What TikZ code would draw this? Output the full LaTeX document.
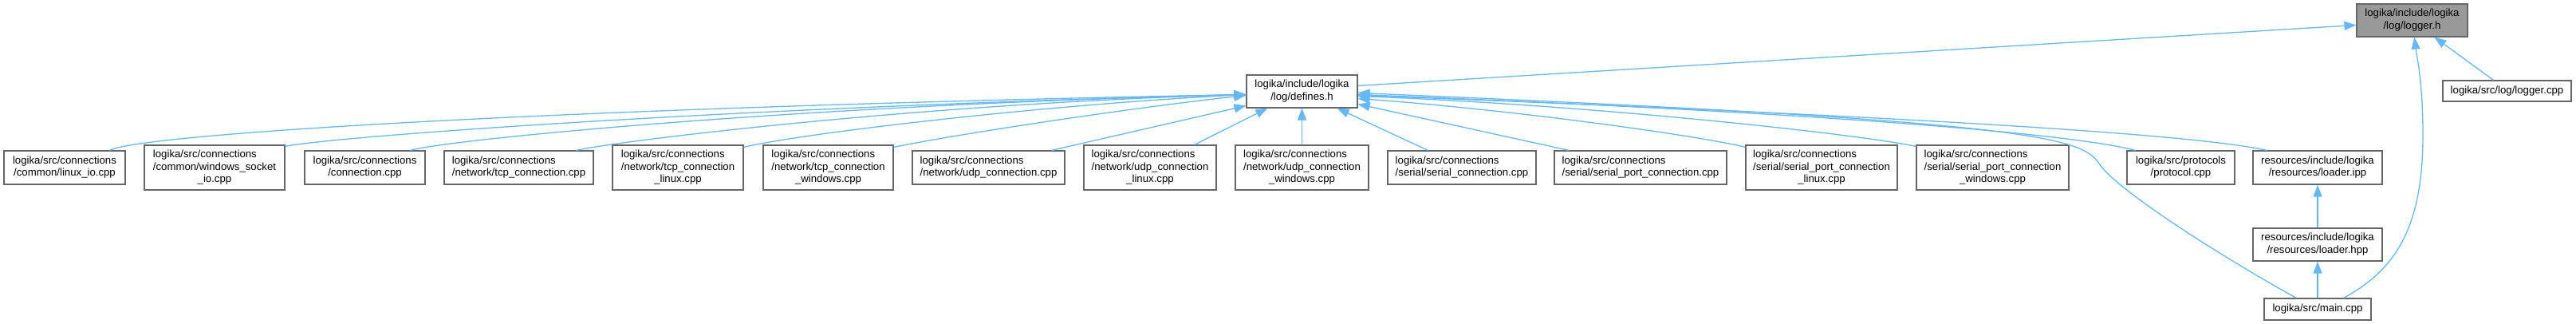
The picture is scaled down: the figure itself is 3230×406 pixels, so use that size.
\documentclass[tikz,border=0pt]{standalone}
\usepackage{fontspec}
\setmainfont{Liberation Sans}
\usetikzlibrary{arrows.meta,calc}
\definecolor{nodeborder}{HTML}{666666}
\definecolor{hlfill}{HTML}{999999}
\definecolor{edgeblue}{HTML}{63B8FF}
\newcommand\twoln[2]{\begin{tabular}{@{}l@{}}#1\\\multicolumn{1}{@{}c@{}}{#2}\end{tabular}}
\newcommand\threeln[3]{\begin{tabular}{@{}l@{}}#1\\#2\\\multicolumn{1}{@{}c@{}}{#3}\end{tabular}}
\tikzset{
  filebox/.style 2 args={draw=nodeborder, line width=1.1pt, fill=white, inner sep=0pt,
    minimum width=#1pt, minimum height=#2pt, font=\fontsize{13.2}{15.3}\selectfont},
  hlbox/.style={fill=hlfill},
  dep/.style={draw=edgeblue, line width=1.3pt, -{Triangle[length=15pt,width=11pt]}},
}
\begin{document}
\begin{tikzpicture}[x=1pt,y=-1pt]
\useasboundingbox (0,0) rectangle (3230,406);
% top nodes
\node[filebox={139}{41}, hlbox] (logh) at (3024.5,25.5) {\twoln{logika/include/logika}{/log/logger.h}};
\node[filebox={139}{41}] (def) at (1632.5,114.5) {\twoln{logika/include/logika}{/log/defines.h}};
\node[filebox={161}{26}] (logcpp) at (3143.5,114) {logika/src/log/logger.cpp};
% row of sources
\node[filebox={152}{42}] (lio) at (81,210) {\twoln{logika/src/connections}{/common/linux\_io.cpp}};
\node[filebox={176}{56}] (wsio) at (269,210) {\threeln{logika/src/connections}{/common/windows\_socket}{\_io.cpp}};
\node[filebox={151}{42}] (conn) at (457.5,210) {\twoln{logika/src/connections}{/connection.cpp}};
\node[filebox={187}{42}] (tcp) at (650.5,210) {\twoln{logika/src/connections}{/network/tcp\_connection.cpp}};
\node[filebox={164}{56}] (tcpl) at (850,210) {\threeln{logika/src/connections}{/network/tcp\_connection}{\_linux.cpp}};
\node[filebox={163}{56}] (tcpw) at (1038.5,210) {\threeln{logika/src/connections}{/network/tcp\_connection}{\_windows.cpp}};
\node[filebox={191}{42}] (udp) at (1239.5,210) {\twoln{logika/src/connections}{/network/udp\_connection.cpp}};
\node[filebox={166}{56}] (udpl) at (1442,210) {\threeln{logika/src/connections}{/network/udp\_connection}{\_linux.cpp}};
\node[filebox={167}{56}] (udpw) at (1632.5,210) {\threeln{logika/src/connections}{/network/udp\_connection}{\_windows.cpp}};
\node[filebox={186}{42}] (ser) at (1833,210) {\twoln{logika/src/connections}{/serial/serial\_connection.cpp}};
\node[filebox={216}{42}] (serp) at (2057,210) {\twoln{logika/src/connections}{/serial/serial\_port\_connection.cpp}};
\node[filebox={190}{56}] (serpl) at (2284,210) {\threeln{logika/src/connections}{/serial/serial\_port\_connection}{\_linux.cpp}};
\node[filebox={191}{56}] (serpw) at (2498.5,210) {\threeln{logika/src/connections}{/serial/serial\_port\_connection}{\_windows.cpp}};
\node[filebox={135}{42}] (proto) at (2734.5,210) {\twoln{logika/src/protocols}{/protocol.cpp}};
\node[filebox={162}{42}] (lipp) at (2906,210) {\twoln{resources/include/logika}{/resources/loader.ipp}};
\node[filebox={162}{41}] (lhpp) at (2906,306.5) {\twoln{resources/include/logika}{/resources/loader.hpp}};
\node[filebox={134}{27}] (main) at (2906,387.5) {logika/src/main.cpp};
% edges into logger.h
\draw[dep] ($(def.north east)+(0,14)$) -- ($(logh.north west)+(0,27)$);
\draw[dep] ($(logcpp.north west)+(64,0)$) -- ($(logh.south west)+(98,0)$);
\draw[dep] ($(main.north west)+(100,0)$) .. controls (3000,340) and (3038,290) .. (3038,170)
  .. controls (3038,100) and (3030,70) .. ($(logh.south west)+(73,0)$);
% edges into defines.h, left side
\draw[dep] ($(lio.north west)+(133,0)$) .. controls (175,168) and (700,135) .. ($(def.north west)+(0,25)$);
\draw[dep] ($(wsio.north east)+(0,2)$) .. controls (410,172) and (900,135) .. ($(def.north west)+(0,25)$);
\draw[dep] ($(conn.north west)+(133,0)$) .. controls (560,175) and (1000,132) .. ($(def.north west)+(0,25)$);
\draw[dep] ($(tcp.north west)+(166,0)$) .. controls (765,178) and (1150,130) .. ($(def.north west)+(0,25)$);
\draw[dep] ($(tcpl.north east)+(0,3)$) .. controls (1000,168) and (1300,132) .. ($(def.north west)+(0,25)$);
\draw[dep] ($(tcpw.north east)+(0,3)$) .. controls (1200,168) and (1420,135) .. ($(def.north west)+(0,26)$);
\draw[dep] ($(udp.north west)+(175,0)$) -- ($(def.north west)+(0,39)$);
% bottom
\draw[dep] ($(udpl.north west)+(139,0)$) -- ($(def.south west)+(27,0)$);
\draw[dep] (udpw.north) -- (def.south);
\draw[dep] ($(ser.north west)+(51,0)$) -- ($(def.south east)+(-26,0)$);
% right side
\draw[dep] ($(serp.north west)+(19,0)$) -- ($(def.north east)+(0,37)$);
\draw[dep] ($(serpl.north west)+(0,3)$) .. controls (2130,170) and (1900,138) .. ($(def.north east)+(0,30)$);
\draw[dep] ($(serpw.north west)+(0,2)$) .. controls (2330,168) and (2000,132) .. ($(def.north east)+(0,27)$);
\draw[dep] ($(proto.north west)+(11,0)$) .. controls (2600,168) and (2300,142) .. ($(def.north east)+(0,25)$);
\draw[dep] ($(lipp.north west)+(18,0)$) .. controls (2760,170) and (2450,148) .. ($(def.north east)+(0,26)$);
\draw[dep] ($(main.north west)+(41,0)$) .. controls (2800,330) and (2655,240) .. (2632,205)
  .. controls (2610,172) and (2550,152) .. ($(def.north east)+(0,23)$);
% loader chain
\draw[dep] (lhpp.north) -- (lipp.south);
\draw[dep] (main.north) -- (lhpp.south);
\end{tikzpicture}
\end{document}
